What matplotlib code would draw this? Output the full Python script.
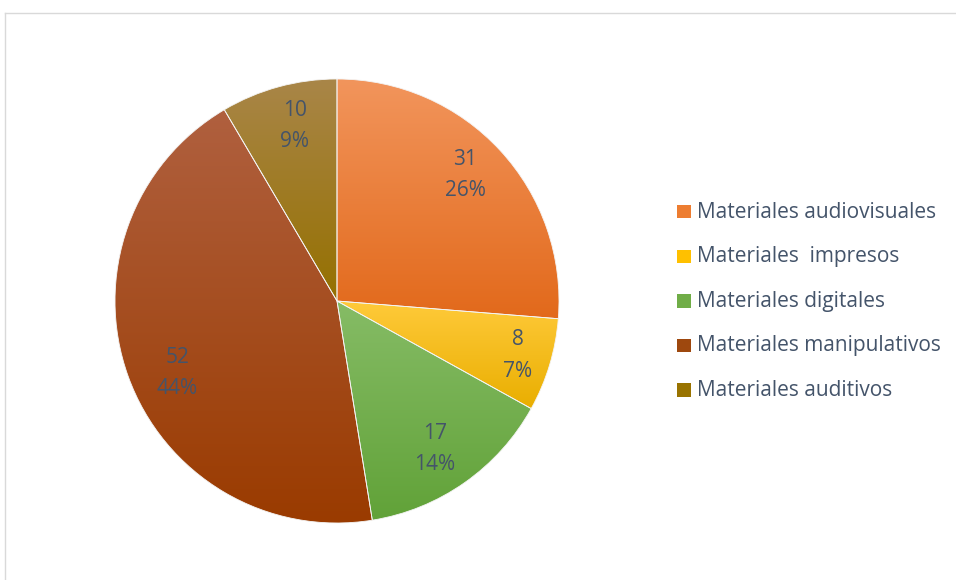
import numpy as np
import matplotlib
matplotlib.use("Agg")
import matplotlib.pyplot as plt
from matplotlib.colors import LinearSegmentedColormap, to_rgb
from matplotlib.patches import Rectangle
from matplotlib.lines import Line2D

labels = ["Materiales audiovisuales", "Materiales  impresos", "Materiales digitales",
          "Materiales manipulativos", "Materiales auditivos"]
values = [31, 8, 17, 52, 10]
# gradient colours per slice: (top, bottom)
tops = ["#F2955C", "#FFCA3A", "#86BC66", "#B0603F", "#A98648"]
bots = ["#E2691B", "#E9AE00", "#61A238", "#9A3B00", "#957000"]
base = ["#ED7D31", "#FFC000", "#70AD47", "#9E480E", "#997300"]

txt_col = "#44546A"
font = "Open Sans"
W, H = 956, 580

fig = plt.figure(figsize=(W / 100, H / 100), dpi=100)
fig.patch.set_facecolor("white")

# chart-area border (top and left visible)
fig.add_artist(Line2D([5 / W, 1], [1 - 13 / H, 1 - 13 / H], color="#D9D9D9", lw=1))
fig.add_artist(Line2D([5 / W, 5 / W], [0, 1 - 13 / H], color="#D9D9D9", lw=1))

cx, cy, r = 337, 301, 222
ax = fig.add_axes([(cx - r) / W, (H - cy - r) / H, 2 * r / W, 2 * r / H])
ax.set_xlim(-1, 1); ax.set_ylim(-1, 1); ax.set_aspect("equal"); ax.axis("off")

wedges, _ = ax.pie(values, startangle=90, counterclock=False, radius=1,
                   wedgeprops=dict(facecolor="none", edgecolor="#F4F4F4", linewidth=0.6, zorder=3))

for w, t, b in zip(wedges, tops, bots):
    bb = w.get_path().get_extents()
    cmap = LinearSegmentedColormap.from_list("g", [to_rgb(t), to_rgb(b)])
    grad = np.linspace(0, 1, 256).reshape(-1, 1)
    im = ax.imshow(grad, cmap=cmap, extent=[bb.x0, bb.x1, bb.y0, bb.y1],
                   origin="upper", aspect="auto", zorder=2, interpolation="bilinear")
    im.set_clip_path(w)
ax.set_xlim(-1, 1); ax.set_ylim(-1, 1)

# percentages rounded so they add up to 100 (largest remainder)
total = sum(values)
raw = [100 * v / total for v in values]
pct = [int(np.floor(p)) for p in raw]
order = sorted(range(len(raw)), key=lambda i: raw[i] - pct[i], reverse=True)
for i in order[:100 - sum(pct)]:
    pct[i] += 1

# data labels (value + percent)
ang_off = [1.8, 0, -1.7, 4.5, -1.6]
lab_r = [0.81, 0.85, 0.80, 0.79, 0.81]
for w, v, p, off, rr in zip(wedges, values, pct, ang_off, lab_r):
    a = np.deg2rad((w.theta1 + w.theta2) / 2 + off)
    x, y = rr * np.cos(a), rr * np.sin(a)
    ax.text(x, y, f"{v}\n{p}%", ha="center", va="center",
            fontsize=15, color=txt_col, family=font, linespacing=1.65, zorder=5)

# legend
for i, (lab, c) in enumerate(zip(labels, base)):
    yc = 212 + i * 44.6
    fig.add_artist(Rectangle((677 / W, 1 - (yc + 6.5) / H), 13.5 / W, 13.5 / H,
                             facecolor=c, edgecolor="none", transform=fig.transFigure))
    fig.text(697 / W, 1 - yc / H, lab, ha="left", va="center", fontsize=15,
             color=txt_col, family=font)

fig.savefig("out.png", dpi=100)
